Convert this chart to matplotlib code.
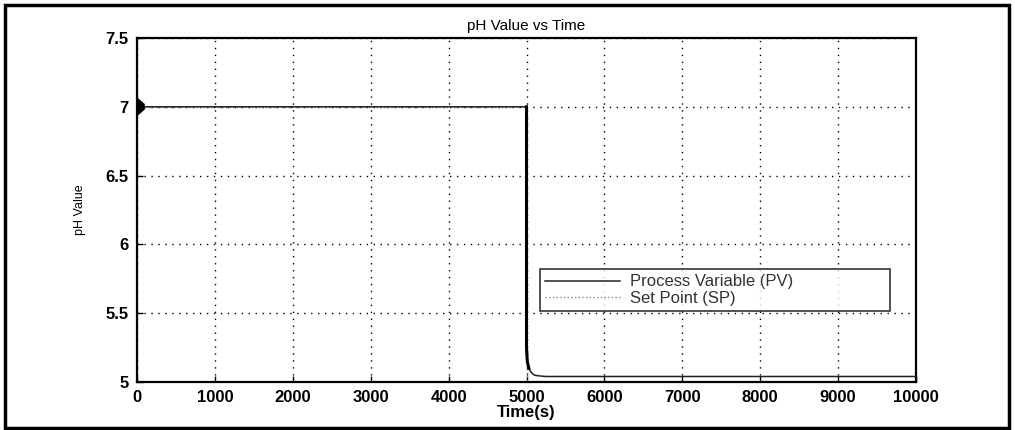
import matplotlib
matplotlib.use("Agg")
import matplotlib.pyplot as plt
from matplotlib.patches import Rectangle

# Simulated pH response: process variable and set point over time
time_pv = [0, 5000, 5000, 5010, 5030, 5060, 5100, 5150, 5250, 5400, 10000]
ph_pv = [7.0, 7.0, 5.25, 5.15, 5.10, 5.07, 5.05, 5.045, 5.04, 5.04, 5.04]
time_sp = [0, 5000, 5000, 10000]
ph_sp = [7.0, 7.0, 5.0, 5.0]
# start-up oscillation band around pH 7
time_start = [0, 100, 100, 0]
ph_start = [6.93, 6.98, 7.02, 7.07]

x_ticks = [0, 1000, 2000, 3000, 4000, 5000, 6000, 7000, 8000, 9000, 10000]
y_ticks = [5, 5.5, 6, 6.5, 7, 7.5]

plt.rcParams['font.family'] = ['Liberation Sans', 'DejaVu Sans']

fig = plt.figure(figsize=(10.15, 4.3), dpi=100)
ax = fig.add_axes([137 / 1015, 1 - 382 / 430, (916 - 137) / 1015, (382 - 38) / 430])

ax.plot(time_sp, ph_sp, color='#888888', lw=1.0, ls=':', label='Set Point (SP)', zorder=2)
ax.plot(time_pv, ph_pv, color='#222222', lw=1.1, label='Process Variable (PV)', zorder=3)
# the steep drop after the set point change
ax.plot(time_pv[1:5], ph_pv[1:5], color='black', lw=2.2, zorder=3)
ax.fill(time_start, ph_start, color='black', lw=0, zorder=3)

ax.set_xlim(0, 10000)
ax.set_ylim(5, 7.5)
ax.set_xticks(x_ticks)
ax.set_yticks(y_ticks)
ax.set_yticklabels(['5', '5.5', '6', '6.5', '7', '7.5'])
ax.tick_params(direction='in', length=4, width=1, labelsize=12, pad=6)
for lab in ax.get_xticklabels() + ax.get_yticklabels():
    lab.set_fontweight('bold')
ax.grid(True, color='black', ls=(0, (1, 4)), lw=1.0)
for s in ax.spines.values():
    s.set_linewidth(1.6)

ax.set_title('pH Value vs Time', fontsize=11, pad=6)
ax.set_xlabel('Time(s)', fontsize=12, fontweight='bold', labelpad=0)
ax.set_ylabel('pH Value', fontsize=9, labelpad=14)

handles, labels = ax.get_legend_handles_labels()
x0 = (540 - 137) / 779
y0 = (382 - 311) / 344
w = (890 - 540) / 779
h = (311 - 268) / 344
leg = ax.legend([handles[1], handles[0]], [labels[1], labels[0]],
                loc='lower left', bbox_to_anchor=(x0, y0, w, h), mode='expand',
                fontsize=12, frameon=True, fancybox=False, edgecolor='black',
                borderaxespad=0, handlelength=4.5, handletextpad=0.6,
                labelspacing=0.1, borderpad=0.3)
leg.get_frame().set_linewidth(1.2)
for t in leg.get_texts():
    t.set_color('#333333')

# outer border around the figure
fig.add_artist(Rectangle((5 / 1015, 2 / 430), 1004 / 1015, 423 / 430,
                         transform=fig.transFigure, fill=False,
                         edgecolor='black', lw=2.5))

fig.savefig('out.png', dpi=100)
